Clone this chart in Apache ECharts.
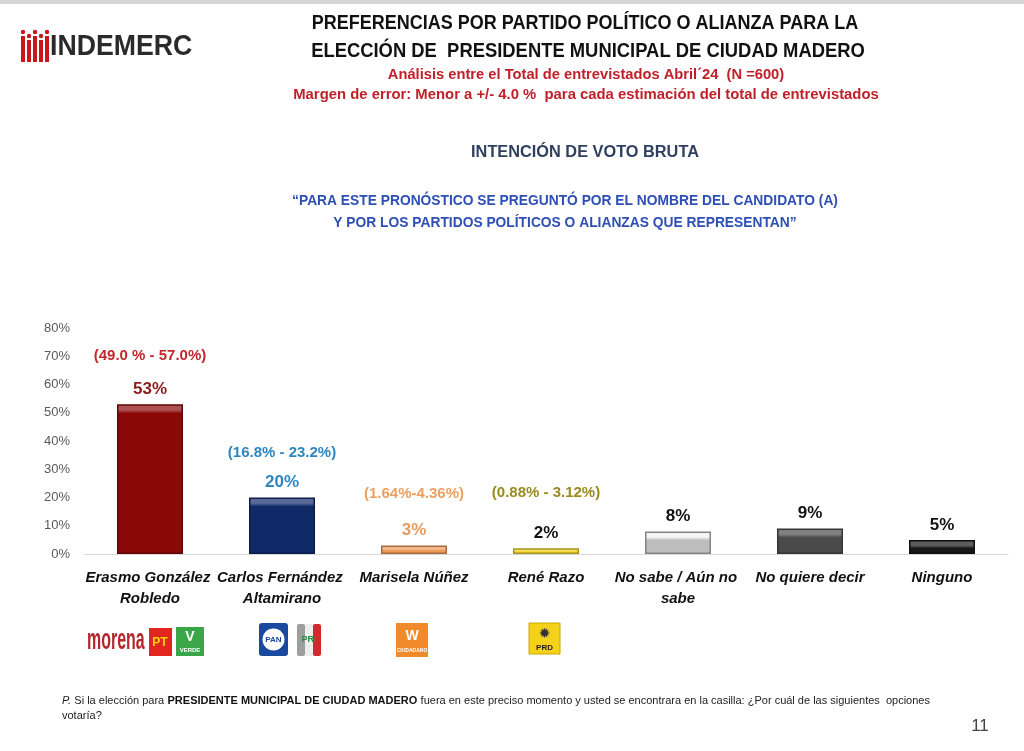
<!DOCTYPE html>
<html><head><meta charset="utf-8">
<script src="https://cdn.jsdelivr.net/npm/echarts@6/dist/echarts.min.js"></script>
<style>html,body{margin:0;padding:0;background:#fff}#c{width:1024px;height:751px}</style>
</head><body><div id="c"></div>
<script>
const categories = ['Erasmo González Robledo','Carlos Fernández Altamirano','Marisela Núñez','René Razo','No sabe / Aún no sabe','No quiere decir','Ninguno'];
const values = [53, 20, 3, 2, 8, 9, 5];
const ranges = ['(49.0 % - 57.0%)','(16.8% - 23.2%)','(1.64%-4.36%)','(0.88% - 3.12%)','','',''];
const yTicks = [0,10,20,30,40,50,60,70,80];
const barColors = ['#8a0808','#102a68','#ee9a58','#f0d42a','#bdbdbd','#4a4a4a','#161616'];
const valueColors = ['#8b1c1c','#2e86c1','#e89a5c','#111','#111','#111','#111'];
const rangeColors = ['#c0282d','#2e86c1','#eca060','#9a8a20','','',''];
// vertical gap (line height) between range text and value text, per bar
const rangeGap = [48, 42, 56, 62, 0, 0, 0];

const F = '"Liberation Sans",Arial,sans-serif';
const chart = echarts.init(document.getElementById('c'));

const data = values.map((v,i)=>{
  const c = barColors[i];
  const light = echarts.color.lerp(i===4 ? 0.85 : 0.3, [c, '#ffffff']);
  const s = Math.min(0.45, 2 / v);
  return {
    value: v,
    itemStyle:{
      color:{type:'linear', x:0, y:0, x2:0, y2:1, colorStops:[{offset:0,color:light},{offset:s,color:light},{offset:Math.min(0.6,s*1.6),color:c},{offset:1,color:c}]},
      borderColor: echarts.color.lerp(0.3, [c, '#000']), borderWidth:1.5},
    label:{
      formatter: ranges[i] ? '{r|'+ranges[i]+'}\n{v|'+v+'%}' : '{v|'+v+'%}',
      rich:{
        r:{color: rangeColors[i], fontFamily:F, fontWeight:'bold', fontSize:15, lineHeight:rangeGap[i] || 18},
        v:{color: valueColors[i], fontFamily:F, fontWeight:'bold', fontSize:17, lineHeight:18}
      }
    }
  };
});

const g = [];
// logo
for (let k=0;k<5;k++){
  g.push({type:'rect', x:21+k*6, y:36+(k%2?4:0), shape:{width:4,height:26-(k%2?4:0)}, style:{fill:'#c8161d'}});
  g.push({type:'circle', x:23+k*6, y:32+(k%2?4:0), shape:{r:2.2}, style:{fill:'#c8161d'}});
}
g.push({type:'text', x:50, y:32, scaleX:0.92, style:{text:'INDEMERC', font:'bold 29px '+F, fill:'#2a2a2a'}});
// titles
const titles = [
  ['PREFERENCIAS POR PARTIDO POLÍTICO O ALIANZA PARA LA',13,20,'#111',585,0.9],
  ['ELECCIÓN DE  PRESIDENTE MUNICIPAL DE CIUDAD MADERO',41,20,'#111',588,0.92],
  ['Análisis entre el Total de entrevistados Abril´24  (N =600)',67,15,'#c0202a',586,0.98],
  ['Margen de error: Menor a +/- 4.0 %  para cada estimación del total de entrevistados',87,15,'#c0202a',586,0.99],
  ['INTENCIÓN DE VOTO BRUTA',145,16,'#2f3f5f',585,1.02],
  ['“PARA ESTE PRONÓSTICO SE PREGUNTÓ POR EL NOMBRE DEL CANDIDATO (A)',193,15,'#2e4fb5',565,0.92],
  ['Y POR LOS PARTIDOS POLÍTICOS O ALIANZAS QUE REPRESENTAN”',215,15,'#2e4fb5',565,0.92]
];
titles.forEach(t=>g.push({type:'text', x:t[4], y:t[1], scaleX:t[5], style:{text:t[0], font:'bold '+t[2]+'px '+F, fill:t[3], align:'center'}}));
// party logos
g.push({type:'text', x:87, y:626, scaleX:0.55, style:{text:'morena', font:'bold 29px '+F, fill:'#b3282d'}});
g.push({type:'rect', x:149, y:628, shape:{width:23,height:28}, style:{fill:'#e3261d'}});
g.push({type:'text', x:160, y:643, style:{text:'PT', font:'bold 12px Arial', fill:'#ffd700', align:'center', verticalAlign:'middle'}});
g.push({type:'rect', x:176, y:627, shape:{width:28,height:29}, style:{fill:'#3aa648'}});
g.push({type:'text', x:190, y:650, style:{text:'VERDE', font:'bold 6px Arial', fill:'#fff', align:'center', verticalAlign:'middle'}});
g.push({type:'text', x:190, y:637, style:{text:'V', font:'bold 14px Arial', fill:'#fff', align:'center', verticalAlign:'middle'}});
g.push({type:'rect', x:259, y:623, shape:{width:29,height:33, r:3}, style:{fill:'#1a4aa0'}});
g.push({type:'circle', x:273.5, y:639.5, shape:{r:11}, style:{fill:'#fff'}});
g.push({type:'text', x:273.5, y:640, style:{text:'PAN', font:'bold 8px Arial', fill:'#1a4aa0', align:'center', verticalAlign:'middle'}});
g.push({type:'rect', x:297, y:624, shape:{width:8,height:32,r:2}, style:{fill:'#9e9e9e'}});
g.push({type:'rect', x:305, y:624, shape:{width:8,height:32}, style:{fill:'#eee'}});
g.push({type:'rect', x:313, y:624, shape:{width:8,height:32,r:2}, style:{fill:'#d3262d'}});
g.push({type:'text', x:309, y:640, style:{text:'PRI', font:'bold 9px Arial', fill:'#2a8a3a', align:'center', verticalAlign:'middle'}});
g.push({type:'rect', x:396, y:623, shape:{width:32,height:34}, style:{fill:'#f08a2a'}});
g.push({type:'text', x:412, y:636, style:{text:'W', font:'bold 14px Arial', fill:'#fff', align:'center', verticalAlign:'middle'}});
g.push({type:'text', x:412, y:651, style:{text:'CIUDADANO', font:'bold 5px Arial', fill:'#fff', align:'center', verticalAlign:'middle'}});
g.push({type:'rect', x:529, y:623, shape:{width:31,height:31}, style:{fill:'#f4d21a', stroke:'#c9a800'}});
g.push({type:'text', x:544.5, y:634, style:{text:'✹', font:'bold 14px "DejaVu Sans"', fill:'#333', align:'center', verticalAlign:'middle'}});
g.push({type:'text', x:544.5, y:648, style:{text:'PRD', font:'bold 8px Arial', fill:'#222', align:'center', verticalAlign:'middle'}});
// footer
g.push({type:'text', x:62, y:693, style:{text:'{i|P.} {n|Si la elección para} {b|PRESIDENTE MUNICIPAL DE CIUDAD MADERO} {n|fuera en este preciso momento y usted se encontrara en la casilla: ¿Por cuál de las siguientes  opciones}\n{n|votaría?}',
  rich:{i:{font:'italic 11px '+F, fill:'#222', lineHeight:15}, n:{font:'11px '+F, fill:'#222', lineHeight:15}, b:{font:'bold 11px '+F, fill:'#111', lineHeight:15}}}});
g.push({type:'text', x:980, y:718, style:{text:'11', font:'17px '+F, fill:'#444', align:'center'}});
g.push({type:'rect', x:0, y:0, shape:{width:1024,height:4}, style:{fill:'#d6d6d6'}});

chart.setOption({
  backgroundColor:'#fff',
  animation:false,
  graphic:g,
  grid:{left:84, right:16, top:328, bottom:197},
  xAxis:{type:'category', data:categories,
    axisLine:{lineStyle:{color:'#d9d9d9'}}, axisTick:{show:false},
    axisLabel:{interval:0, width:138, overflow:'break', color:'#111', fontFamily:F, fontWeight:'bold', fontStyle:'italic', fontSize:15, lineHeight:21, margin:13}},
  yAxis:{type:'value', min:yTicks[0], max:yTicks[yTicks.length-1], interval:10,
    splitLine:{show:false}, axisLine:{show:false}, axisTick:{show:false},
    axisLabel:{formatter:'{value}%', color:'#595959', fontFamily:F, fontSize:13, margin:14}},
  series:[{type:'bar', data:data, barWidth:66, label:{show:true, position:'top', distance:6}}]
});
</script></body></html>
